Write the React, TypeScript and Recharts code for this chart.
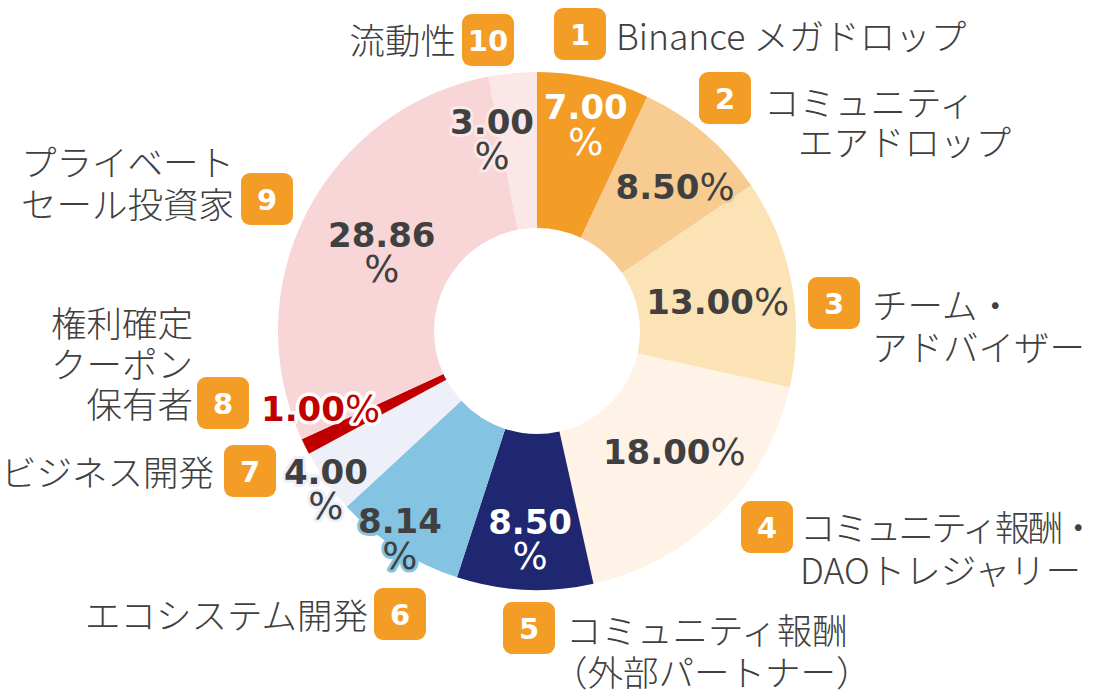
import { PieChart, Pie, Cell } from 'recharts'

// token allocation, clockwise from 12 o'clock
const sliceNames = [
  'Binance メガドロップ',
  'コミュニティエアドロップ',
  'チーム・アドバイザー',
  'コミュニティ報酬・DAOトレジャリー',
  'コミュニティ報酬（外部パートナー）',
  'エコシステム開発',
  'ビジネス開発',
  '権利確定クーポン保有者',
  'プライベートセール投資家',
  '流動性',
]
const shares = [7.0, 8.5, 13.0, 18.0, 8.5, 8.14, 4.0, 1.0, 28.86, 3.0]
const nameLines = [
  ['Binance メガドロップ'],
  ['コミュニティ', 'エアドロップ'],
  ['チーム・', 'アドバイザー'],
  ['コミュニティ報酬・', 'DAOトレジャリー'],
  ['コミュニティ報酬', '（外部パートナー）'],
  ['エコシステム開発'],
  ['ビジネス開発'],
  ['権利確定', 'クーポン', '保有者'],
  ['プライベート', 'セール投資家'],
  ['流動性'],
]

const sliceColors = [
  '#F39C26', '#F8CB91', '#FBE3B5', '#FEF3E6', '#1F2771',
  '#84C3E2', '#EDEFF9', '#C00000', '#F8D5D6', '#FBE7E8',
]
const pctColors = [
  '#FFFFFF', '#404040', '#404040', '#404040', '#FFFFFF',
  '#404040', '#404040', '#C00000', '#404040', '#404040',
]
const BADGE = '#F39C26'
const TEXT = '#404040'
const RAD = Math.PI / 180

// percent label placement: [radius, angle tweak], and whether "%" wraps
const pctPos: [number, number][] = [
  [212, -0.7], [199.5, -3.3], [183, -1.7], [183, 3.6], [208.6, 0.8],
  [249, -0.75], [264, 1.4], [230, -6.7], [174, 0.4], [197, 7.8],
]
const pctWrap = [true, false, false, false, true, true, true, false, true, true]

// name badge centre, line positions
const badgePos: [number, number][] = [
  [580, 34], [725, 98], [834, 303], [767, 527], [529, 628],
  [400, 614], [250, 471], [223, 403], [267, 199], [488, 40],
]
const lineY = [
  [34], [100, 140], [303, 345], [525, 568], [628, 670],
  [613], [470], [321, 362, 402], [160, 202], [38],
]
const lineX = [
  [616], [764, 798], [872, 872], [800, 800], [566, 552],
  [368], [214], [193, 193, 193], [234, 234], [456],
]
const leftSide = [false, false, false, false, false, true, true, true, true, true]
// squeeze the one line that would run off the right edge
const lineFit: Record<string, number> = { '3-0': 296 }

const data = sliceNames.map((name, i) => ({ name, value: shares[i] }))

const NUM_FONT = '"DejaVu Sans", Verdana, sans-serif'
const JP_FONT = '"Noto Sans CJK JP", "Noto Sans", sans-serif'

function renderLabel(props: any) {
  const { cx, cy, midAngle, index } = props
  const [r, dA] = pctPos[index]
  const a = -(midAngle + dA) * RAD
  const x = cx + r * Math.cos(a)
  const y = cy + r * Math.sin(a)
  const halo = index === 7 ? '#FFFFFF' : sliceColors[index]
  const num = shares[index].toFixed(2)
  const common = {
    fill: pctColors[index],
    stroke: halo,
    strokeWidth: index === 7 ? 7 : 6,
    strokeLinejoin: 'round' as const,
    paintOrder: 'stroke',
    textAnchor: 'middle' as const,
    dominantBaseline: 'central' as const,
    fontFamily: NUM_FONT,
    fontSize: 34,
  }
  const [bx, by] = badgePos[index]
  return (
    <g key={`lbl-${index}`}>
      {pctWrap[index] ? (
        <>
          <text x={x} y={y - 17.5} {...common} fontWeight="bold">{num}</text>
          <text x={x} y={y + 17.5} {...common} fontWeight="normal" fontSize={37}>%</text>
        </>
      ) : (
        <text x={x} y={y} {...common}>
          <tspan fontWeight="bold">{num}</tspan>
          <tspan fontWeight="normal" fontSize={37}>%</tspan>
        </text>
      )}
      <rect x={bx - 26} y={by - 26} width={52} height={52} rx={9} fill={BADGE} />
      <text
        x={bx}
        y={by + 1}
        textAnchor="middle"
        dominantBaseline="central"
        fill="#FFFFFF"
        fontFamily={NUM_FONT}
        fontWeight="bold"
        fontSize={29}
      >
        {index + 1}
      </text>
      {nameLines[index].map((line, j) => {
        const fit = lineFit[`${index}-${j}`]
        return (
          <text
            key={j}
            x={lineX[index][j]}
            y={lineY[index][j]}
            textAnchor={leftSide[index] ? 'end' : 'start'}
            dominantBaseline="central"
            fill={TEXT}
            fontFamily={JP_FONT}
            fontWeight={300}
            fontSize={35.5}
            textLength={fit}
            lengthAdjust={fit ? 'spacing' : undefined}
          >
            {line}
          </text>
        )
      })}
    </g>
  )
}

export default function App() {
  return (
    <div style={{ width: 1100, height: 697, background: '#fff' }}>
      <style>{'body{margin:0}'}</style>
      <PieChart width={1100} height={697} margin={{ top: 0, right: 0, bottom: 0, left: 0 }}>
        <Pie
          data={data}
          dataKey="value"
          nameKey="name"
          cx={537}
          cy={331}
          innerRadius={103}
          outerRadius={259}
          startAngle={90}
          endAngle={-270}
          stroke="none"
          label={renderLabel}
          labelLine={false}
          isAnimationActive={false}
        >
          {data.map((d, i) => (
            <Cell key={d.name} fill={sliceColors[i]} stroke="none" />
          ))}
        </Pie>
      </PieChart>
    </div>
  )
}
